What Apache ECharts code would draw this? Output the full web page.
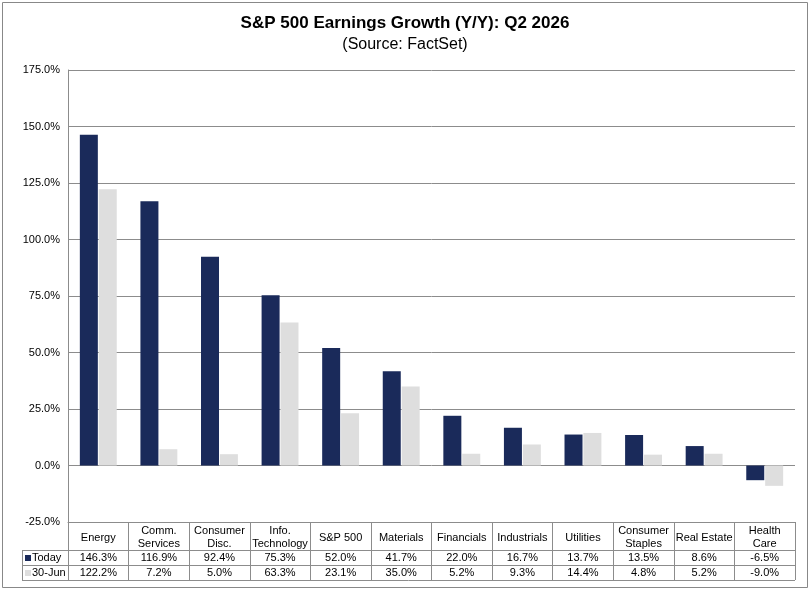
<!DOCTYPE html>
<html>
<head>
<meta charset="utf-8">
<script src="https://cdn.jsdelivr.net/npm/echarts@6/dist/echarts.min.js"></script>
<style>
  html, body { margin: 0; padding: 0; background: #fff; }
  #chart { width: 810px; height: 590px; }
</style>
</head>
<body>
<div id="chart"></div>
<script>
// Data
const categories = [
  "Energy", "Comm.\nServices", "Consumer\nDisc.", "Info.\nTechnology", "S&P 500",
  "Materials", "Financials", "Industrials", "Utilities", "Consumer\nStaples",
  "Real Estate", "Health\nCare",
];
const todayValues = [146.3, 116.9, 92.4, 75.3, 52.0, 41.7, 22.0, 16.7, 13.7, 13.5, 8.6, -6.5];
const june30Values = [122.2, 7.2, 5.0, 63.3, 23.1, 35.0, 5.2, 9.3, 14.4, 4.8, 5.2, -9.0];
const seriesNames = ["Today", "30-Jun"];
const yMin = -25;
const yMax = 175;
const yStep = 25;

const NAVY = "#1a2a5a";
const LIGHT = "#dedede";
const LINE = "#8c8c8c";
const FONT = "Liberation Sans, Arial, sans-serif";

function pct(v) {
  return v.toFixed(1) + "%";
}

// category header + the two value rows of the data table
function tableLabel(value, index) {
  const parts = value.split("\n");
  let head;
  if (parts.length > 1) {
    head = parts.map((p) => "{h2|" + p + "}").join("\n");
  } else {
    head = "{h1|" + value + "}";
  }
  return head + "\n{v|" + pct(todayValues[index]) + "}\n{v|" + pct(june30Values[index]) + "}";
}

// horizontal rule of the table
function rule(x1, y, x2) {
  return {
    type: "line",
    shape: { x1: x1, y1: y, x2: x2, y2: y },
    style: { stroke: LINE, lineWidth: 1 },
    silent: true,
  };
}

// colour key + name in the left column of the table
function rowKey(y, color, name) {
  return [
    {
      type: "rect",
      shape: { x: 25, y: y - 3, width: 6, height: 6 },
      style: { fill: color },
      silent: true,
    },
    {
      type: "text",
      x: 32,
      y: y,
      style: {
        text: name,
        fontFamily: FONT,
        fontSize: 11,
        fill: "#000",
        verticalAlign: "middle",
      },
      silent: true,
    },
  ];
}

const chart = echarts.init(document.getElementById("chart"));
const option = {
  animation: false,
  backgroundColor: "#fff",
  textStyle: { fontFamily: FONT },
  title: {
    text: "S&P 500 Earnings Growth (Y/Y): Q2 2026",
    subtext: "(Source: FactSet)",
    left: "center",
    top: 10,
    itemGap: 5,
    textStyle: { fontFamily: FONT, fontSize: 17, fontWeight: "bold", color: "#000" },
    subtextStyle: { fontFamily: FONT, fontSize: 16, color: "#000" },
  },
  grid: { left: 68, right: 15, top: 70, bottom: 68 },
  xAxis: {
    type: "category",
    data: categories,
    position: "bottom",
    axisLine: { show: true, onZero: false, lineStyle: { color: LINE } },
    axisTick: { show: true, interval: 0, length: 58, lineStyle: { color: LINE } },
    axisLabel: {
      interval: 0,
      margin: 3,
      color: "#000",
      formatter: tableLabel,
      rich: {
        h1: { fontFamily: FONT, fontSize: 11, lineHeight: 25, color: "#000", align: "center" },
        h2: { fontFamily: FONT, fontSize: 11, lineHeight: 12.5, color: "#000", align: "center" },
        v: { fontFamily: FONT, fontSize: 11, lineHeight: 15.5, color: "#000", align: "center" },
      },
    },
    splitLine: { show: false },
  },
  yAxis: {
    type: "value",
    min: yMin,
    max: yMax,
    interval: yStep,
    axisLine: { show: true, lineStyle: { color: LINE } },
    axisTick: { show: false },
    axisLabel: {
      margin: 8,
      color: "#000",
      fontFamily: FONT,
      fontSize: 11,
      formatter: pct,
    },
    splitLine: { show: true, lineStyle: { color: LINE, width: 1 } },
  },
  graphic: [
    // outer frame
    {
      type: "rect",
      shape: { x: 2.5, y: 2.5, width: 805, height: 585 },
      style: { fill: "none", stroke: "#888", lineWidth: 1 },
      silent: true,
    },
    // table rules
    rule(22, 550.5, 795),
    rule(22, 565.5, 795),
    rule(22, 580.5, 795),
    {
      type: "line",
      shape: { x1: 22.5, y1: 550, x2: 22.5, y2: 581 },
      style: { stroke: LINE, lineWidth: 1 },
      silent: true,
    },
    ...rowKey(558, NAVY, seriesNames[0]),
    ...rowKey(573, LIGHT, seriesNames[1]),
  ],
  series: [
    {
      name: seriesNames[0],
      type: "bar",
      data: todayValues,
      barWidth: 18,
      barGap: "5%",
      itemStyle: { color: NAVY },
    },
    {
      name: seriesNames[1],
      type: "bar",
      data: june30Values,
      barWidth: 18,
      barGap: "5%",
      itemStyle: { color: LIGHT },
    },
  ],
};
chart.setOption(option);
</script>
</body>
</html>
